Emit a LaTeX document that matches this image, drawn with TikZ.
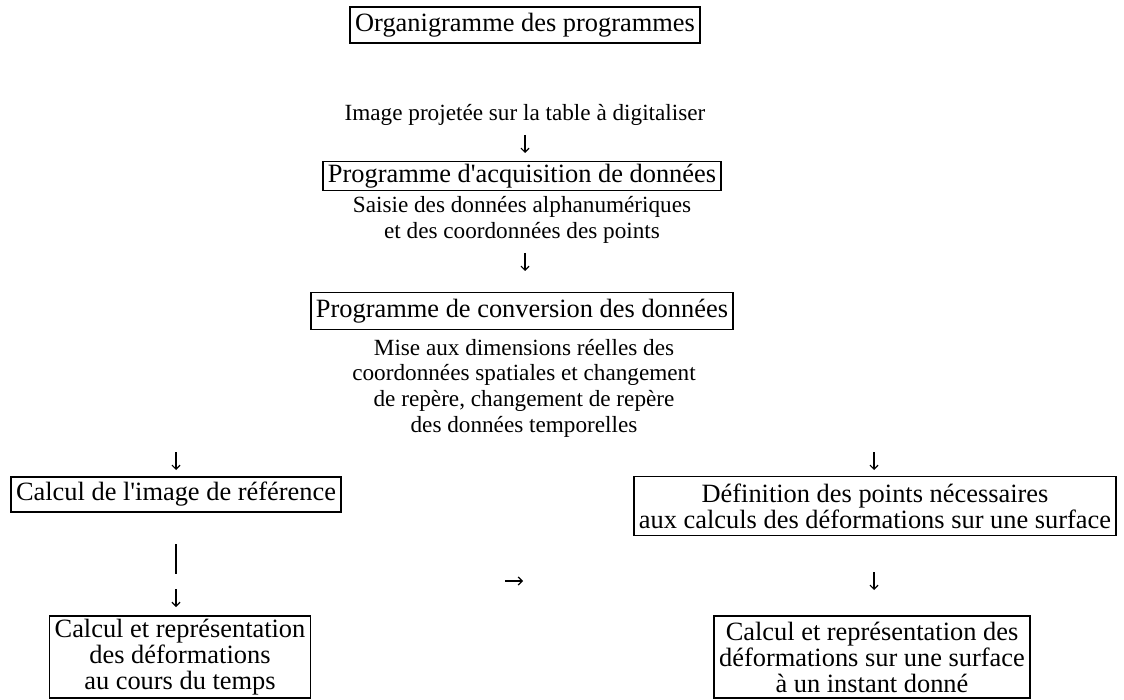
\documentclass[tikz,border=0pt]{standalone}
\usepackage{fontspec}
\setmainfont{Liberation Serif}
\usetikzlibrary{arrows.meta}
\newcommand\boxfs{\fontsize{26.4}{26}\selectfont}
\newcommand\txtfs{\fontsize{23.2}{25.7}\selectfont}
\begin{document}
\begin{tikzpicture}[x=1pt,y=-1pt,
  box/.style={draw,line width=1.5pt,inner xsep=5pt,inner ysep=2pt,align=center,font=\boxfs},
  txt/.style={align=center,font=\txtfs,inner sep=0pt},
  arr/.style={line width=1.2pt,-{Straight Barb[length=4pt,width=8pt]}},
  bar/.style={line width=1.2pt}]
\fill[white] (0,0) rectangle (1124,700);
\useasboundingbox (0,0) rectangle (1124,700);
% middle column
\node[box,minimum height=36pt] (title) at (525,25) {Organigramme des programmes};
\node[txt] (img) at (525,115) {Image projetée sur la table à digitaliser};
\coordinate (a1s) at (525,135); \coordinate (a1e) at (525,153);
\draw[arr] (a1s) -- (a1e);
\node[box,minimum height=29pt] (acq) at (522,176) {Programme d\textquotesingle acquisition de données};
\node[txt] (saisie) at (522,220) {Saisie des données alphanumériques\\et des coordonnées des points};
\coordinate (a2s) at (525,253); \coordinate (a2e) at (525,271);
\draw[arr] (a2s) -- (a2e);
\node[box,minimum height=37pt] (conv) at (522,311) {Programme de conversion des données};
\node[txt] (mise) at (524,388) {Mise aux dimensions réelles des\\coordonnées spatiales et changement\\de repère, changement de repère\\des données temporelles};
% left column
\coordinate (a3s) at (176,452); \coordinate (a3e) at (176,470);
\draw[arr] (a3s) -- (a3e);
\node[box,minimum height=35pt] (ref) at (176,494.5) {Calcul de l\textquotesingle image de référence};
\coordinate (b1s) at (176,544); \coordinate (b1e) at (176,574);
\draw[bar] (b1s) -- (b1e);
\coordinate (a4s) at (176,589); \coordinate (a4e) at (176,607);
\draw[arr] (a4s) -- (a4e);
\node[box,minimum height=82pt] (temps) at (180,657) {Calcul et représentation\\des déformations\\au cours du temps};
% right column
\coordinate (a5s) at (874,452); \coordinate (a5e) at (874,470);
\draw[arr] (a5s) -- (a5e);
\node[box,minimum height=59pt] (def) at (875,506) {Définition des points nécessaires\\aux calculs des déformations sur une surface};
\coordinate (a6s) at (874,572); \coordinate (a6e) at (874,590);
\draw[arr] (a6s) -- (a6e);
\node[box,minimum height=82pt] (inst) at (872,657) {Calcul et représentation des\\déformations sur une surface\\à un instant donné};
% horizontal arrow
\coordinate (h1s) at (505,581); \coordinate (h1e) at (523,581);
\draw[arr] (h1s) -- (h1e);
\end{tikzpicture}
\end{document}
